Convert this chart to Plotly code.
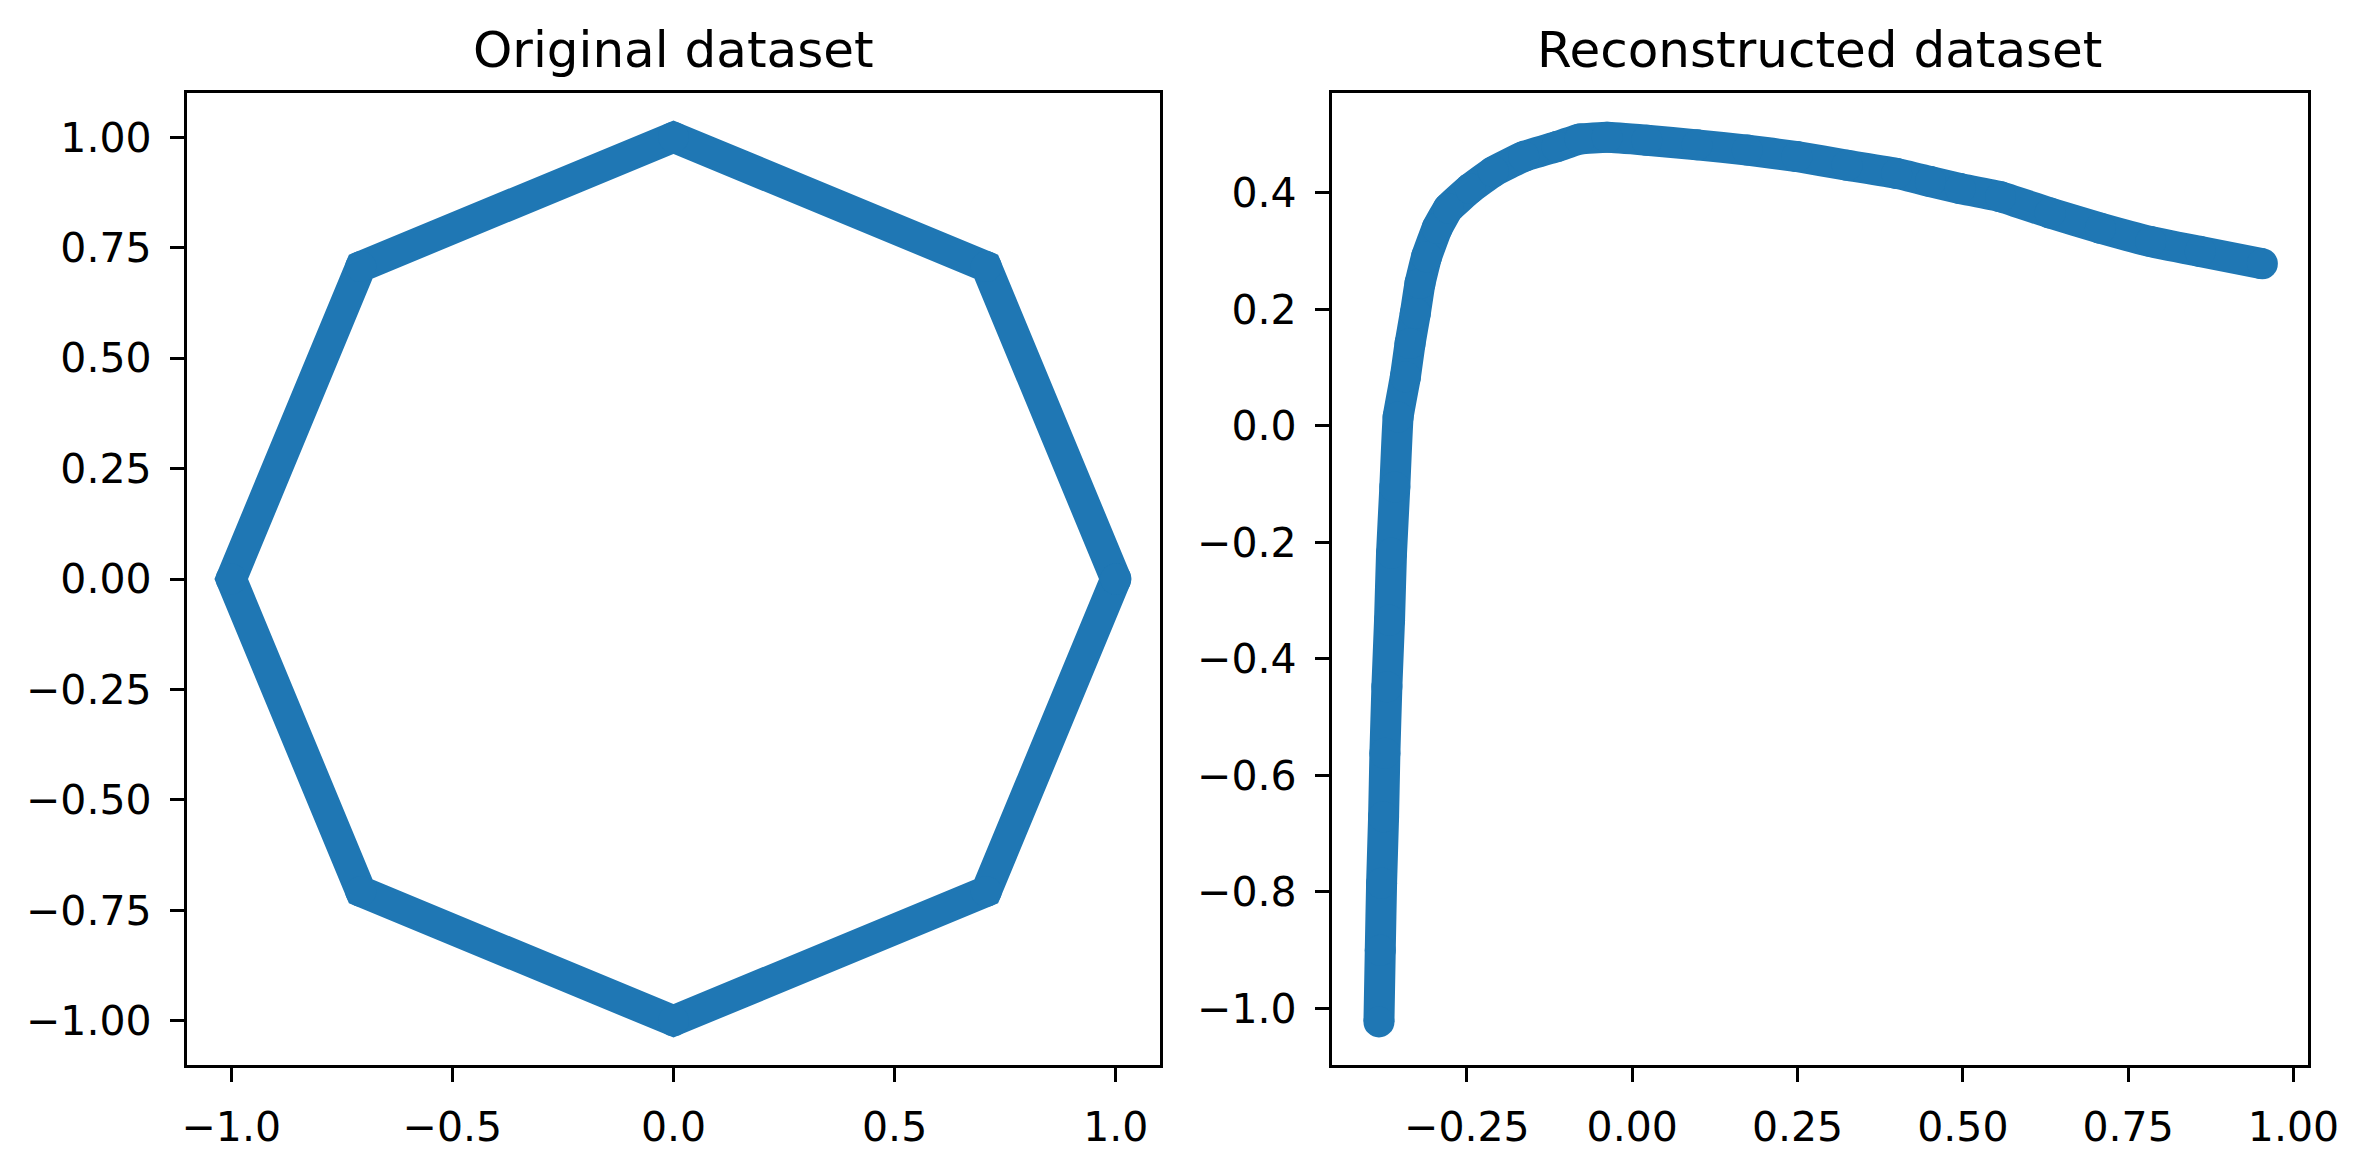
import plotly.graph_objects as go

# ---- data ----
orig_x = [1.0, 0.7071, 0.0, -0.7071, -1.0, -0.7071, 0.0, 0.7071, 1.0]
orig_y = [0.0, 0.7071, 1.0, 0.7071, 0.0, -0.7071, -1.0, -0.7071, 0.0]

recon_x = [-0.383, -0.381, -0.379, -0.376, -0.374, -0.371, -0.367, -0.364, -0.359,
           -0.354, -0.343, -0.336, -0.328, -0.321, -0.311, -0.295, -0.278, -0.245,
           -0.210, -0.164, -0.114, -0.079, -0.038, 0.022, 0.098, 0.174, 0.249,
           0.325, 0.400, 0.451, 0.496, 0.557, 0.632, 0.708, 0.784, 0.859, 0.953]
recon_y = [-1.023, -0.900, -0.785, -0.671, -0.562, -0.448, -0.334, -0.219, -0.105,
           0.015, 0.084, 0.141, 0.193, 0.244, 0.290, 0.339, 0.373, 0.407,
           0.436, 0.462, 0.479, 0.492, 0.495, 0.490, 0.482, 0.473, 0.462,
           0.447, 0.433, 0.419, 0.407, 0.393, 0.365, 0.339, 0.316, 0.299, 0.278]

left_xticks = [-1.0, -0.5, 0.0, 0.5, 1.0]
left_xlabels = ["\u22121.0", "\u22120.5", "0.0", "0.5", "1.0"]
left_yticks = [1.0, 0.75, 0.5, 0.25, 0.0, -0.25, -0.5, -0.75, -1.0]
left_ylabels = ["1.00", "0.75", "0.50", "0.25", "0.00", "\u22120.25", "\u22120.50", "\u22120.75", "\u22121.00"]
right_xticks = [-0.25, 0.0, 0.25, 0.5, 0.75, 1.0]
right_xlabels = ["\u22120.25", "0.00", "0.25", "0.50", "0.75", "1.00"]
right_yticks = [0.4, 0.2, 0.0, -0.2, -0.4, -0.6, -0.8, -1.0]
right_ylabels = ["0.4", "0.2", "0.0", "\u22120.2", "\u22120.4", "\u22120.6", "\u22120.8", "\u22121.0"]

W, H = 2368, 1166
BLUE = "#1f77b4"
FONT = "DejaVu Sans"
MS = 31
LW = 31


def px(v):
    return v / W


fig = go.Figure()
fig.add_trace(go.Scatter(x=orig_x, y=orig_y, mode="lines+markers",
                         line=dict(color=BLUE, width=LW),
                         marker=dict(color=BLUE, size=MS, line=dict(width=0)),
                         xaxis="x", yaxis="y", showlegend=False, hoverinfo="skip"))
fig.add_trace(go.Scatter(x=recon_x, y=recon_y, mode="lines+markers",
                         line=dict(color=BLUE, width=LW, shape="spline", smoothing=0.3),
                         marker=dict(color=BLUE, size=MS, line=dict(width=0)),
                         xaxis="x2", yaxis="y2", showlegend=False, hoverinfo="skip"))

ax_common = dict(showline=True, linecolor="black", linewidth=3.3, mirror=True,
                 ticks="outside", ticklen=14, tickwidth=3.3, tickcolor="black",
                 showgrid=False, zeroline=False, automargin=False,
                 ticklabeloverflow="allow",
                 tickfont=dict(family=FONT, size=41, color="black"),
                 ticklabelstandoff=10)

ytop = 1 - 93 / H
ybot = 1 - 1065 / H

fig.update_layout(
    width=W, height=H, autosize=False,
    margin=dict(l=0, r=0, t=0, b=0, pad=0, autoexpand=False),
    paper_bgcolor="white", plot_bgcolor="white",
    xaxis=dict(domain=[px(187), px(1160)], range=[-1.1, 1.1],
               tickvals=left_xticks, ticktext=left_xlabels, anchor="y", **ax_common),
    yaxis=dict(domain=[ybot, ytop], range=[-1.1, 1.1],
               tickvals=left_yticks, ticktext=left_ylabels, anchor="x", **ax_common),
    xaxis2=dict(domain=[px(1332), px(2308)], range=[-0.454, 1.022],
                tickvals=right_xticks, ticktext=right_xlabels, anchor="y2", **ax_common),
    yaxis2=dict(domain=[ybot, ytop], range=[-1.097, 0.571],
                tickvals=right_yticks, ticktext=right_ylabels, anchor="x2", **ax_common),
    annotations=[
        dict(text="Original dataset", x=px((187 + 1160) / 2), y=1 - 50 / H,
             xref="paper", yref="paper", xanchor="center", yanchor="middle",
             showarrow=False, font=dict(family=FONT, size=50, color="black")),
        dict(text="Reconstructed dataset", x=px((1332 + 2308) / 2), y=1 - 50 / H,
             xref="paper", yref="paper", xanchor="center", yanchor="middle",
             showarrow=False, font=dict(family=FONT, size=50, color="black")),
    ],
)

fig.write_html("out.html", config={"displayModeBar": False},
               post_script="document.documentElement.style.overflow='hidden';document.body.style.margin='0';document.body.style.overflow='hidden';")
